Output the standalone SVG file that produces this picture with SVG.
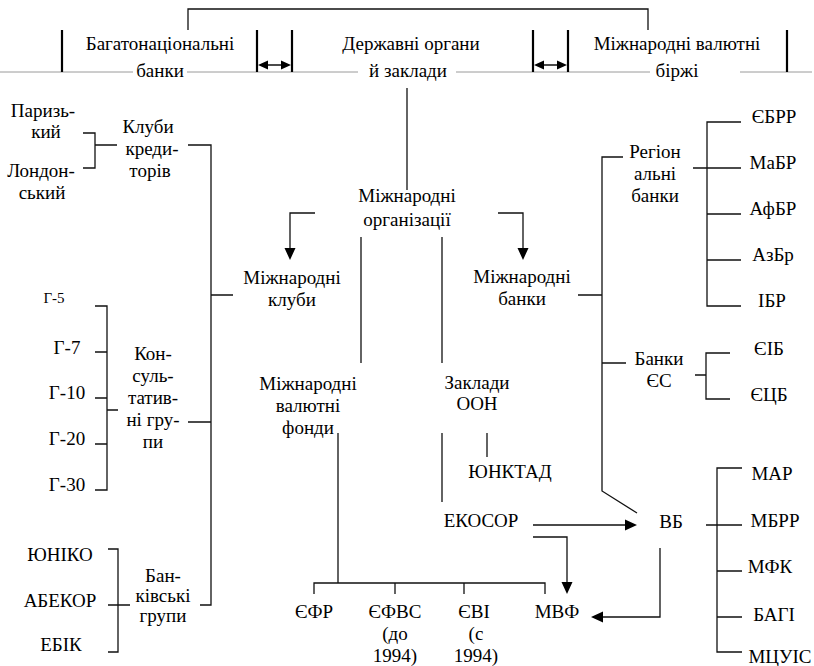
<svg xmlns="http://www.w3.org/2000/svg" width="814" height="666" viewBox="0 0 814 666">
<style>
text{font-size:19px;fill:#000;text-anchor:middle}
text.sm{font-size:15px}
.c{fill:none;stroke:#111;stroke-width:1.3}
.edge{fill:none;stroke:#000;stroke-width:2.2}
.gray{fill:none;stroke:#9a9a9a;stroke-width:1}
.head{fill:#000;stroke:none}
</style>
<rect width="814" height="666" fill="#fff"/>
<g id="connectors">
<path class="gray" d="M0 72 H133 M187 72 H358 M456 72 H650 M740 72 H812"/>
<path class="c" d="M188 30 V9 H648 V30"/>
<path class="edge" d="M62 30 V72 M257 30 V72 M292 30 V72 M533 30 V72 M568 30 V72 M787 30 V72"/>
<path class="c" d="M266 65 H283 M542 65 H559"/>
<path class="head" d="M258 65 L268 60.5 L268 69.5 Z M291 65 L281 60.5 L281 69.5 Z M534 65 L544 60.5 L544 69.5 Z M567 65 L557 60.5 L557 69.5 Z"/>
<path class="c" d="M407 88 V190"/>
<path class="c" d="M315 213 H290 V250 M498 213 H523 V250"/>
<path class="head" d="M290 260 L284.5 248 L295.5 248 Z M523 260 L517.5 248 L528.5 248 Z"/>
<path class="c" d="M361 237 V363 M442 237 V363"/>
<path class="c" d="M188 145 H211 V605 H200 M211 295 H233 M188 422 H211"/>
<path class="c" d="M83 133 H95 V168 H83 M95 145 H117"/>
<path class="c" d="M95 306 H107 V490 H95 M95 352 H107 M95 398 H107 M95 444 H107 M107 410 H118"/>
<path class="c" d="M108 549 H118 V652 H108 M108 605 H130"/>
<path class="c" d="M623 157 H602 V491 L637 513 M578 295 H602 M602 363 H626"/>
<path class="c" d="M741 122 H707 V306 H741 M707 214 H741 M707 260 H741 M693 168 H741"/>
<path class="c" d="M730 353 H706 V399 H730 M695 375 H706"/>
<path class="c" d="M742 468 H717 V652 H742 M706 525 H742 M717 571 H742 M717 617 H742"/>
<path class="c" d="M338 433 V583 M314 594 V583 H545 V594 M395 583 V594 M464 583 V594"/>
<path class="c" d="M487 433 V457 M442 433 V502"/>
<path class="c" d="M533 525 H627 M533 537 H567 V584 M660 548 V617 H601"/>
<path class="head" d="M637 525 L625 519.5 L625 530.5 Z M567 594 L561.5 582 L572.5 582 Z M591 617 L603 611.5 L603 622.5 Z"/>
</g>
<g id="multinational-banks"><text font-family="Liberation Serif" x="160" y="50">Багатонаціональні</text><text font-family="Liberation Serif" x="160" y="77">банки</text></g>
<g id="state-bodies"><text font-family="Liberation Serif" x="411" y="50">Державні органи</text><text font-family="Liberation Serif" x="408" y="77">й заклади</text></g>
<g id="currency-exchanges"><text font-family="Liberation Serif" x="677" y="50">Міжнародні валютні</text><text font-family="Liberation Serif" x="677" y="77">біржі</text></g>
<g id="intl-orgs"><text font-family="Liberation Serif" x="407" y="202">Міжнародні</text><text font-family="Liberation Serif" x="407" y="226">організації</text></g>
<g id="intl-clubs"><text font-family="Liberation Serif" x="292" y="284">Міжнародні</text><text font-family="Liberation Serif" x="292" y="306">клуби</text></g>
<g id="intl-banks"><text font-family="Liberation Serif" x="522" y="283">Міжнародні</text><text font-family="Liberation Serif" x="522" y="305">банки</text></g>
<g id="intl-funds"><text font-family="Liberation Serif" x="308" y="390">Міжнародні</text><text font-family="Liberation Serif" x="308" y="412">валютні</text><text font-family="Liberation Serif" x="308" y="434">фонди</text></g>
<g id="un-bodies"><text font-family="Liberation Serif" x="477" y="389">Заклади</text><text font-family="Liberation Serif" x="477" y="410">ООН</text></g>
<g id="unctad"><text font-family="Liberation Serif" x="510" y="478">ЮНКТАД</text></g>
<g id="ecosoc"><text font-family="Liberation Serif" x="481" y="527">ЕКОСОР</text></g>
<g id="wb"><text font-family="Liberation Serif" x="671" y="528">ВБ</text></g>
<g id="imf"><text font-family="Liberation Serif" x="557" y="618">МВФ</text></g>
<g id="efr"><text font-family="Liberation Serif" x="314" y="618">ЄФР</text></g>
<g id="efvs"><text font-family="Liberation Serif" x="395" y="618">ЄФВС</text><text font-family="Liberation Serif" x="395" y="640">(до</text><text font-family="Liberation Serif" x="395" y="662">1994)</text></g>
<g id="evi"><text font-family="Liberation Serif" x="474" y="618">ЄВІ</text><text font-family="Liberation Serif" x="476" y="640">(с</text><text font-family="Liberation Serif" x="476" y="662">1994)</text></g>
<g id="creditor-clubs"><text font-family="Liberation Serif" x="148" y="133">Клуби</text><text font-family="Liberation Serif" x="152" y="155">креди-</text><text font-family="Liberation Serif" x="150" y="177">торів</text></g>
<g id="paris"><text font-family="Liberation Serif" x="43" y="117">Паризь-</text><text font-family="Liberation Serif" x="46" y="138">кий</text></g>
<g id="london"><text font-family="Liberation Serif" x="41" y="177">Лондон-</text><text font-family="Liberation Serif" x="42" y="199">ський</text></g>
<g id="g5"><text font-family="Liberation Serif" class="sm" x="54" y="303">Г-5</text></g>
<g id="g7"><text font-family="Liberation Serif" x="67" y="354">Г-7</text></g>
<g id="g10"><text font-family="Liberation Serif" x="67" y="399">Г-10</text></g>
<g id="g20"><text font-family="Liberation Serif" x="67" y="445">Г-20</text></g>
<g id="g30"><text font-family="Liberation Serif" x="67" y="491">Г-30</text></g>
<g id="consult-groups"><text font-family="Liberation Serif" x="153" y="360">Кон-</text><text font-family="Liberation Serif" x="153" y="382">суль-</text><text font-family="Liberation Serif" x="153" y="404">татив-</text><text font-family="Liberation Serif" x="153" y="426">ні гру-</text><text font-family="Liberation Serif" x="153" y="448">пи</text></g>
<g id="uniko"><text font-family="Liberation Serif" x="60" y="561">ЮНІКО</text></g>
<g id="abekor"><text font-family="Liberation Serif" x="60" y="607">АБЕКОР</text></g>
<g id="ebik"><text font-family="Liberation Serif" x="61" y="651">ЕБІК</text></g>
<g id="bank-groups"><text font-family="Liberation Serif" x="163" y="582">Бан-</text><text font-family="Liberation Serif" x="163" y="602">ківські</text><text font-family="Liberation Serif" x="163" y="622">групи</text></g>
<g id="regional-banks"><text font-family="Liberation Serif" x="655" y="158">Регіон</text><text font-family="Liberation Serif" x="655" y="180">альні</text><text font-family="Liberation Serif" x="655" y="202">банки</text></g>
<g id="ebrr"><text font-family="Liberation Serif" x="774" y="123">ЄБРР</text></g>
<g id="mabr"><text font-family="Liberation Serif" x="773" y="169">МаБР</text></g>
<g id="afbr"><text font-family="Liberation Serif" x="773" y="215">АфБР</text></g>
<g id="azbr"><text font-family="Liberation Serif" x="773" y="261">АзБр</text></g>
<g id="ibr"><text font-family="Liberation Serif" x="772" y="307">ІБР</text></g>
<g id="eu-banks"><text font-family="Liberation Serif" x="659" y="365">Банки</text><text font-family="Liberation Serif" x="659" y="387">ЄС</text></g>
<g id="eib"><text font-family="Liberation Serif" x="769" y="355">ЄІБ</text></g>
<g id="ecb"><text font-family="Liberation Serif" x="769" y="401">ЄЦБ</text></g>
<g id="mar"><text font-family="Liberation Serif" x="772" y="480">МАР</text></g>
<g id="mbrr"><text font-family="Liberation Serif" x="775" y="527">МБРР</text></g>
<g id="mfk"><text font-family="Liberation Serif" x="770" y="573">МФК</text></g>
<g id="bagi"><text font-family="Liberation Serif" x="774" y="621">БАГІ</text></g>
<g id="mtsuis"><text font-family="Liberation Serif" x="780" y="663">МЦУІС</text></g>
</svg>
